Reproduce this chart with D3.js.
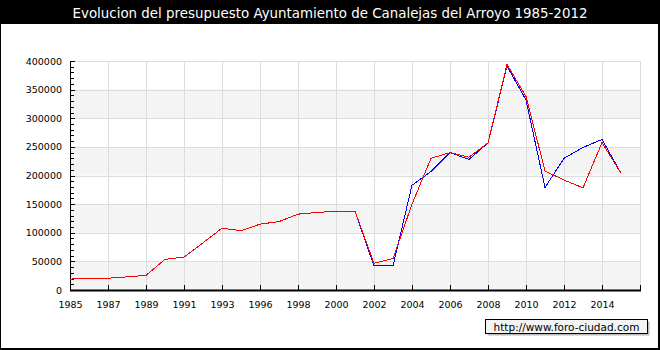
<!DOCTYPE html>
<html lang="es">
    <head>
        <meta charset="utf-8">
        <title>Evolucion del presupuesto Canalejas del Arroyo</title>
        <script src="https://d3js.org/d3.v7.min.js"></script>
        <style type="text/css">
            body { margin: 0; background: #000; }
            svg text { font-family: "DejaVu Sans", Verdana, sans-serif; }
        </style>
    </head>
    <body>
        <script type="text/javascript">

            //1. Chart size and plot box
            const svgW = 660;
            const svgH = 350;
            const plotL = 70, plotR = 640, plotT = 61, plotB = 290;

            //2. Data
            const years = [1985, 1986, 1987, 1988, 1989, 1990, 1991, 1992, 1993, 1995,
                           1996, 1997, 1998, 1999, 2000, 2001, 2002, 2003, 2004, 2005,
                           2006, 2007, 2008, 2009, 2010, 2011, 2012, 2013, 2014, 2015];

            const redValues = [19000, 20500, 20500, 23000, 25500, 53500, 57500, 82500, 108000, 103500,
                               115000, 119500, 132500, 135500, 137500, 137500, 46500, 55000, 150000, 230000,
                               240000, 232000, 257000, 394000, 338000, 208000, 192000, 178500, 257500, 204000];

            const blueValues = [19000, 20500, 20500, 23000, 25500, 53500, 57500, 82500, 108000, 103500,
                                115000, 119500, 132500, 135500, 137500, 137500, 42000, 42000, 183000, 207000,
                                240000, 228000, 257000, 391000, 332000, 179000, 230000, 249000, 263000, 204000];

            const yTicks = [0, 50000, 100000, 150000, 200000, 250000, 300000, 350000, 400000];

            //3. Scales (category index on x, one extra slot at the right edge)
            const xScale = d3.scaleLinear()
                             .domain([0, years.length])
                             .range([plotL, plotR]);

            const yScale = d3.scaleLinear()
                             .domain([0, 400000])
                             .range([plotB, plotT]);

            const xTickIdx = d3.range(0, years.length + 1, 2);

            //4. SVG and frame
            const svg = d3.select("body")
                        .append("svg")
                        .attr("width", svgW)
                        .attr("height", svgH)
                        .style("display", "block");

            svg.append("rect")
                .attr("width", svgW).attr("height", svgH)
                .attr("fill", "#000");

            svg.append("rect")
                .attr("x", 1).attr("y", 24)
                .attr("width", 657).attr("height", 324)
                .attr("fill", "#fff");

            svg.append("text")
                .attr("x", svgW / 2)
                .attr("y", 18)
                .attr("text-anchor", "middle")
                .attr("font-size", "13.4px")
                .attr("fill", "#fff")
                .text("Evolucion del presupuesto Ayuntamiento de Canalejas del Arroyo 1985-2012");

            //5. Alternating bands and grid
            svg.selectAll("rect.band")
                .data(yTicks.slice(0, -1).filter((d, i) => i % 2 === 0))
                .enter()
                .append("rect")
                .attr("class", "band")
                .attr("x", plotL)
                .attr("y", d => yScale(d + 50000))
                .attr("width", plotR - plotL)
                .attr("height", d => yScale(d) - yScale(d + 50000))
                .attr("fill", "#f4f4f4");

            svg.selectAll("line.hgrid")
                .data(yTicks.slice(1))
                .enter()
                .append("line")
                .attr("class", "hgrid")
                .attr("x1", plotL).attr("x2", plotR)
                .attr("y1", d => Math.round(yScale(d)) + 0.5)
                .attr("y2", d => Math.round(yScale(d)) + 0.5)
                .attr("stroke", "#dcdcdc");

            svg.selectAll("line.vgrid")
                .data(xTickIdx.slice(1))
                .enter()
                .append("line")
                .attr("class", "vgrid")
                .attr("x1", d => Math.round(xScale(d)) + 0.5)
                .attr("x2", d => Math.round(xScale(d)) + 0.5)
                .attr("y1", plotT).attr("y2", plotB)
                .attr("stroke", "#dcdcdc");

            //6. Axes
            const bottomAxis = d3.axisBottom(xScale)
                                 .tickValues(xTickIdx)
                                 .tickSize(0)
                                 .tickPadding(11)
                                 .tickFormat(i => i < years.length ? years[i] : "");

            const xAxisG = svg.append("g")
                .attr("transform", "translate(0," + plotB + ")")
                .call(bottomAxis);
            xAxisG.select(".domain").remove();
            xAxisG.selectAll("text").attr("font-size", "9.5px").attr("font-family", null).attr("fill", "#000");

            svg.selectAll("line.xtick")
                .data(xTickIdx)
                .enter()
                .append("line")
                .attr("class", "xtick")
                .attr("x1", d => Math.round(xScale(d)) + 0.5)
                .attr("x2", d => Math.round(xScale(d)) + 0.5)
                .attr("y1", plotB - 5).attr("y2", plotB)
                .attr("stroke", "#000");

            const leftAxis = d3.axisLeft(yScale)
                               .tickValues(yTicks)
                               .tickSize(0)
                               .tickPadding(8)
                               .tickFormat(d3.format("d"));

            const yAxisG = svg.append("g")
                .attr("transform", "translate(" + plotL + ",0)")
                .call(leftAxis);
            yAxisG.select(".domain").remove();
            yAxisG.selectAll("text").attr("font-size", "9.5px").attr("font-family", null).attr("fill", "#000");

            // minor and major ticks pointing into the plot
            svg.selectAll("line.ytick")
                .data(d3.range(0, 400001, 10000))
                .enter()
                .append("line")
                .attr("class", "ytick")
                .attr("x1", plotL)
                .attr("x2", d => d % 50000 === 0 ? plotL + 5 : plotL + 4)
                .attr("y1", d => Math.round(yScale(d)) + 0.5)
                .attr("y2", d => Math.round(yScale(d)) + 0.5)
                .attr("stroke", "#000");

            svg.append("line")
                .attr("x1", plotL + 0.5).attr("x2", plotL + 0.5)
                .attr("y1", plotT).attr("y2", plotB + 1)
                .attr("stroke", "#000");

            svg.append("line")
                .attr("x1", plotL).attr("x2", plotR + 1)
                .attr("y1", plotB + 0.5).attr("y2", plotB + 0.5)
                .attr("stroke", "#000")
                .attr("stroke-width", 2);

            //7. Lines (aliased, red on top of blue)
            const line = d3.line()
                           .x((d, i) => xScale(i))
                           .y(d => yScale(d));

            svg.append("path")
                .datum(blueValues)
                .attr("d", line)
                .attr("fill", "none")
                .attr("stroke", "#0000ff")
                .attr("stroke-width", 1)
                .attr("shape-rendering", "crispEdges");

            svg.append("path")
                .datum(redValues)
                .attr("d", line)
                .attr("fill", "none")
                .attr("stroke", "#ff0000")
                .attr("stroke-width", 1)
                .attr("shape-rendering", "crispEdges");

            //8. Watermark box
            svg.append("rect")
                .attr("x", 487.5).attr("y", 321.5)
                .attr("width", 162).attr("height", 14)
                .attr("fill", "#bbb");

            svg.append("rect")
                .attr("x", 485.5).attr("y", 319.5)
                .attr("width", 162).attr("height", 14)
                .attr("fill", "#f4f4f4")
                .attr("stroke", "#000");

            svg.append("text")
                .attr("x", 566.5)
                .attr("y", 330.5)
                .attr("text-anchor", "middle")
                .attr("font-size", "10.5px")
                .attr("fill", "#000")
                .text("http://www.foro-ciudad.com");

        </script>
    </body>
</html>
